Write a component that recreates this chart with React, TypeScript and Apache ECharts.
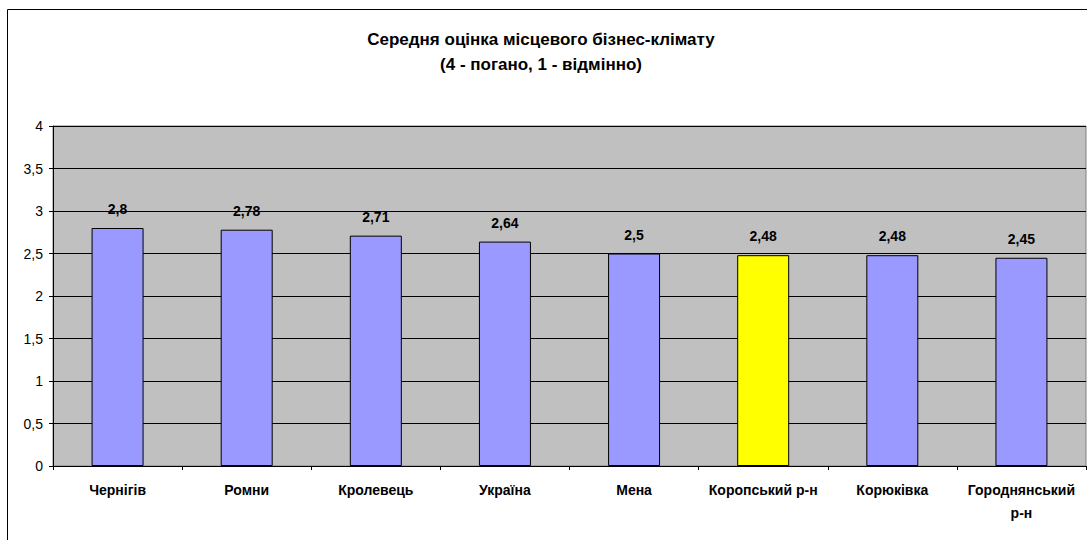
import React, { useEffect, useRef } from "react";
import * as echarts from "echarts";

const titleLines = ["Середня оцінка місцевого бізнес-клімату", "(4 - погано, 1 - відмінно)"];
const categories = [
  "Чернігів",
  "Ромни",
  "Кролевець",
  "Україна",
  "Мена",
  "Коропський р-н",
  "Корюківка",
  "Городнянський\nр-н",
];
const values = [2.8, 2.78, 2.71, 2.64, 2.5, 2.48, 2.48, 2.45];
const highlighted = ["Коропський р-н"];
const yMin = 0;
const yMax = 4;
const yStep = 0.5;

const FONT = 'Arial, "Liberation Sans", sans-serif';
const fmt = (v: number) => String(v).replace(".", ",");

export default function App() {
  const ref = useRef<HTMLDivElement>(null);
  useEffect(() => {
    if (!ref.current) return;
    const chart = echarts.init(ref.current, undefined, { renderer: "svg" });
    chart.setOption({
      animation: false,
      backgroundColor: "#ffffff",
      textStyle: { fontFamily: FONT },
      graphic: [
        {
          type: "rect",
          shape: { x: 7.5, y: 9.5, width: 1100, height: 560 },
          style: { fill: "none", stroke: "#000000", lineWidth: 1 },
          silent: true,
          z: 100,
        },
        ...titleLines.map((t, i) => ({
          type: "text",
          x: 541,
          y: 39 + i * 25,
          style: {
            text: t,
            textAlign: "center",
            textVerticalAlign: "middle",
            font: `bold 17px ${FONT}`,
            fill: "#000000",
          },
        })),
      ],
      grid: {
        left: 53,
        top: 126,
        right: 1,
        bottom: 74,
        show: true,
        backgroundColor: "#C0C0C0",
        borderColor: "#808080",
        borderWidth: 1,
        containLabel: false,
      },
      xAxis: {
        type: "category",
        data: categories,
        axisLine: { show: true, lineStyle: { color: "#000000", width: 1 } },
        axisTick: { show: true, length: 4, alignWithLabel: false, lineStyle: { color: "#000000" } },
        axisLabel: {
          interval: 0,
          margin: 12,
          color: "#000000",
          fontWeight: "bold",
          fontSize: 14,
          fontFamily: FONT,
          lineHeight: 23,
        },
        splitLine: { show: false },
      },
      yAxis: {
        type: "value",
        min: yMin,
        max: yMax,
        interval: yStep,
        axisLine: { show: true, lineStyle: { color: "#000000", width: 1 } },
        axisTick: { show: true, length: 4, lineStyle: { color: "#000000" } },
        axisLabel: {
          margin: 10,
          color: "#000000",
          fontSize: 14,
          fontFamily: FONT,
          formatter: (v: number) => fmt(v),
        },
        splitLine: { show: true, lineStyle: { color: "#000000", width: 1 } },
      },
      series: [
        {
          type: "bar",
          barWidth: 52,
          data: values.map((v, i) => ({
            value: v,
            itemStyle: {
              color: highlighted.includes(categories[i]) ? "#FFFF00" : "#9999FF",
              borderColor: "#000000",
              borderWidth: 1,
            },
          })),
          label: {
            show: true,
            position: "top",
            distance: 12,
            color: "#000000",
            fontWeight: "bold",
            fontSize: 14,
            fontFamily: FONT,
            formatter: (p: any) => fmt(p.value),
          },
        },
      ],
    });
    return () => chart.dispose();
  }, []);
  return (
    <div
      ref={ref}
      style={{ position: "fixed", left: 0, top: 0, width: 1087, height: 540 }}
    />
  );
}
